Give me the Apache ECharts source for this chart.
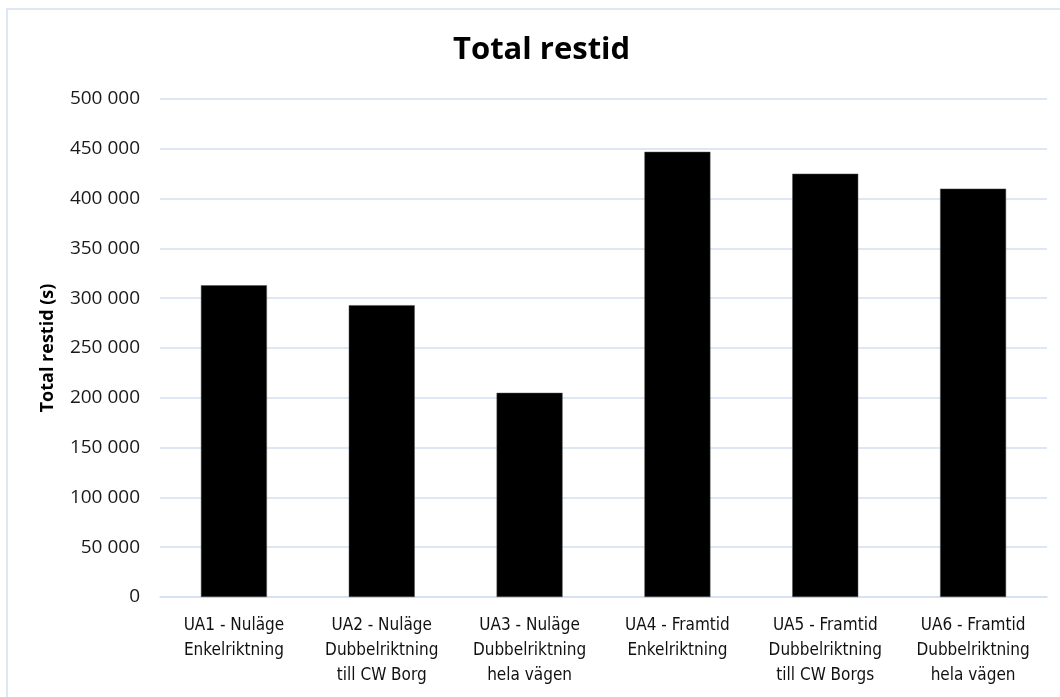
<!DOCTYPE html>
<html>
<head>
<meta charset="utf-8">
<title>Total restid</title>
<script src="https://cdn.jsdelivr.net/npm/echarts@6/dist/echarts.min.js"></script>
<style>
    html, body { margin: 0; padding: 0; background: #fff; }
    #chart { width: 1060px; height: 697px; }
</style>
</head>
<body>
<div id="chart"></div>
<script>
var categories = [
    'UA1 - Nuläge\nEnkelriktning',
    'UA2 - Nuläge\nDubbelriktning\ntill CW Borg',
    'UA3 - Nuläge\nDubbelriktning\nhela vägen',
    'UA4 - Framtid\nEnkelriktning',
    'UA5 - Framtid\nDubbelriktning\ntill CW Borgs',
    'UA6 - Framtid\nDubbelriktning\nhela vägen'
];
var restid = [313000, 293000, 205000, 447000, 425000, 410000];
var yMax = 500000;
var yStep = 50000;

var initChart = function() {
    var chart = echarts.init(document.getElementById('chart'));

    var gridColor = '#d3dff1';

    option = {
        backgroundColor: '#fff',
        animation: false,
        title: {
            text: 'Total restid',
            left: 448,
            top: 30,
            textStyle: {
                fontFamily: 'Open Sans',
                fontWeight: 'bold',
                fontSize: 31,
                color: '#000'
            }
        },
        // light frame round the chart area, like the original
        graphic: [{
            type: 'rect',
            shape: { x: 7, y: 9, width: 1100, height: 750 },
            style: { fill: 'none', stroke: gridColor, lineWidth: 1.5 },
            silent: true
        }],
        grid: {
            left: 160,
            right: 13,
            top: 99,
            bottom: 100
        },
        xAxis: {
            type: 'category',
            data: categories,
            axisTick: { show: false },
            axisLine: {
                show: true,
                lineStyle: { color: gridColor, width: 1.5 }
            },
            axisLabel: {
                interval: 0,
                margin: 16,
                fontFamily: 'DejaVu Sans Condensed, Open Sans',
                fontSize: 17,
                lineHeight: 25,
                color: '#111'
            }
        },
        yAxis: {
            type: 'value',
            min: 0,
            max: yMax,
            interval: yStep,
            name: 'Total restid (s)',
            nameLocation: 'middle',
            nameGap: 103,
            nameTextStyle: {
                fontFamily: 'Open Sans',
                fontWeight: 'bold',
                fontSize: 18,
                color: '#000'
            },
            axisLine: { show: false },
            axisTick: { show: false },
            axisLabel: {
                margin: 20,
                fontFamily: 'Open Sans',
                fontSize: 19,
                color: '#1a1a1a',
                formatter: function(v) {
                    return String(v).replace(/\B(?=(\d{3})+(?!\d))/g, ' ');
                }
            },
            splitLine: {
                show: true,
                lineStyle: { color: gridColor, width: 1.5 }
            }
        },
        series: [{
            name: 'Total restid',
            type: 'bar',
            barWidth: 66,
            itemStyle: {
                color: '#000',
                borderColor: '#555',
                borderWidth: 0.5
            },
            data: restid
        }]
    };
    chart.setOption(option);
};

initChart();
</script>
</body>
</html>
